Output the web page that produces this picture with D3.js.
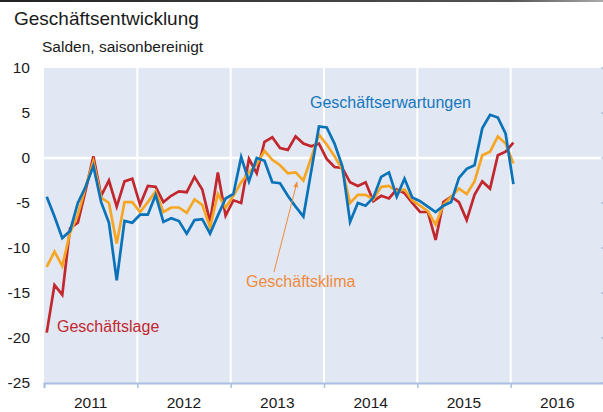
<!DOCTYPE html>
<html>
<head>
<meta charset="utf-8">
<script src="https://cdn.jsdelivr.net/npm/d3@7"></script>
<style>
body { margin: 0; background: #fff; }
svg { display: block; font-family: "Liberation Sans", Arial, sans-serif; }
</style>
</head>
<body>
<script>
// monthly values, jan 2011 .. jan 2016
let lage = [-19.4, -14.1, -15.2, -7.8, -7.2, -3.6, 0.2, -4.2, -2.5, -5.4, -2.6, -2.3,
            -5.2, -3.1, -3.2, -4.9, -4.2, -3.7, -3.8, -2.1, -3.5, -7.1, -1.6, -6.4,
            -4.7, -5.0, -0.1, -1.7, 1.8, 2.3, 1.1, 0.9, 2.4, 1.6, 1.3, 1.6,
            -0.1, -1.0, -1.1, -2.7, -3.1, -2.7, -4.8, -4.2, -4.5, -3.5, -3.9, -5.0,
            -6.0, -6.0, -9.1, -4.9, -4.3, -4.9, -6.9, -4.1, -2.6, -3.4, 0.3, 0.7,
            1.7]
let klima = [-12.1, -10.4, -12.0, -8.3, -6.3, -3.2, -0.4, -4.4, -5.0, -9.5, -4.9, -4.9,
             -6.0, -4.9, -3.7, -6.0, -5.5, -5.5, -6.1, -4.6, -5.2, -7.7, -4.0, -5.5,
             -4.2, -2.7, -1.6, -0.7, 0.8, -0.2, -0.8, -1.7, -1.6, -2.5, 0.0, 2.6,
             1.5, 0.2, -1.3, -5.0, -4.1, -4.1, -4.6, -3.2, -3.1, -3.7, -3.5, -4.7,
             -5.3, -5.9, -7.4, -5.2, -4.3, -3.4, -4.0, -2.6, 0.3, 0.7, 2.4, 1.6,
             -0.6]
let erwartungen = [-4.3, -6.5, -8.9, -8.1, -5.0, -3.2, -0.9, -4.9, -7.2, -13.6, -7.0, -7.2,
                   -6.3, -6.3, -4.1, -7.1, -6.7, -7.0, -8.4, -6.9, -6.8, -8.4, -6.4, -4.5,
                   -4.0, 0.1, -2.6, 0.0, -0.3, -2.7, -2.8, -4.2, -5.4, -6.5, -1.5, 3.5,
                   3.4, 1.6, -0.9, -7.1, -5.0, -5.3, -4.4, -2.1, -1.6, -4.3, -2.3, -4.4,
                   -4.8, -5.4, -6.0, -5.3, -4.9, -2.2, -1.2, -0.8, 3.3, 4.8, 4.5, 2.7,
                   -2.9]
let years = ["2011", "2012", "2013", "2014", "2015", "2016"]
let yticks = [10, 5, 0, -5, -10, -15, -20, -25]

let width = 603
let height = 412
let plotLeft = 44   //plot area starts here
let plotTop = 68
let plotBottom = 383

let red = "#c1272d"
let orange = "#f7a623"
let blue = "#0a72b8"

let xScale = d3.scaleLinear()
            .domain([0, 72]) //6 years in months
            .range([plotLeft, 604])
let yScale = d3.scaleLinear()
            .domain([-25, 10])
            .range([plotBottom, plotTop])

let canvas = d3.select("body")
    .append("svg")
    .attr("width", width)
    .attr("height", height)

// dark rule on top
let grad = canvas.append("defs").append("linearGradient").attr("id", "topline")
grad.append("stop").attr("offset", "0%").attr("stop-color", "#222")
grad.append("stop").attr("offset", "85%").attr("stop-color", "#555")
grad.append("stop").attr("offset", "100%").attr("stop-color", "#aaa")
canvas.append("rect")
    .attr("x", 0).attr("y", 0)
    .attr("width", width).attr("height", 2)
    .attr("fill", "url(#topline)")

canvas.append("text")
    .attr("x", 14)
    .attr("y", 25)
    .attr("font-size", 19)
    .attr("fill", "#1a1a1a")
    .text("Geschäftsentwicklung")
canvas.append("text")
    .attr("x", 42)
    .attr("y", 52)
    .attr("font-size", 15.5)
    .attr("fill", "#1a1a1a")
    .text("Salden, saisonbereinigt")

// panel background
canvas.append("rect")
    .attr("x", plotLeft)
    .attr("y", plotTop)
    .attr("width", width - plotLeft)
    .attr("height", plotBottom - plotTop)
    .attr("fill", "#e1e8f4")

// white year separators
canvas.selectAll("line.vgrid")
    .data(d3.range(1, 6))
    .enter()
    .append("line")
    .attr("class", "vgrid")
    .attr("x1", function(d){ return xScale(d*12) })
    .attr("x2", function(d){ return xScale(d*12) })
    .attr("y1", plotTop)
    .attr("y2", plotBottom)
    .attr("stroke", "#fff")
    .attr("stroke-width", 2)

// zero line
canvas.append("line")
    .attr("x1", plotLeft)
    .attr("x2", width)
    .attr("y1", yScale(0))
    .attr("y2", yScale(0))
    .attr("stroke", "#fff")
    .attr("stroke-width", 2.5)

// left axis labels only
let yaxis = canvas.append("g")
    .attr("transform", "translate(" + plotLeft + ",0)")
    .call(d3.axisLeft(yScale)
        .tickValues(yticks)
        .tickSize(0)
        .tickPadding(14)
        .tickFormat(function(d){ return String(d) }))
yaxis.select(".domain").remove()
yaxis.selectAll("text")
    .attr("font-size", 15.5)
    .attr("font-family", "Liberation Sans, Arial, sans-serif")
    .attr("fill", "#1a1a1a")

// small right ticks, cut by the edge
canvas.selectAll("line.rtick")
    .data(yticks)
    .enter()
    .append("line")
    .attr("class", "rtick")
    .attr("x1", width - 2)
    .attr("x2", width)
    .attr("y1", function(d){ return yScale(d) })
    .attr("y2", function(d){ return yScale(d) })
    .attr("stroke", "#9aa9c4")
    .attr("stroke-width", 1)

// bottom axis
let xaxis = canvas.append("g")
    .attr("transform", "translate(0," + plotBottom + ")")
    .call(d3.axisBottom(xScale)
        .tickValues(d3.range(0, 73, 12))
        .tickSize(5)
        .tickFormat(""))
xaxis.select(".domain").attr("stroke", "#aabde3").attr("stroke-width", 2)
xaxis.selectAll(".tick line").attr("stroke", "#aabde3").attr("stroke-width", 1.5)

canvas.selectAll("text.year")
    .data(years)
    .enter()
    .append("text")
    .attr("class", "year")
    .attr("x", function(d, i){ return xScale(i*12 + 6) })
    .attr("y", 408)
    .attr("text-anchor", "middle")
    .attr("font-size", 15.5)
    .attr("fill", "#1a1a1a")
    .text(function(d){ return d })

// series lines
let line = d3.line()
    .x(function(d, i){ return xScale(i + 0.35) })
    .y(function(d){ return yScale(d) })

let series = [
    {values: lage, color: red},
    {values: klima, color: orange},
    {values: erwartungen, color: blue}
]
canvas.selectAll("path.series")
    .data(series)
    .enter()
    .append("path")
    .attr("class", "series")
    .attr("d", function(d){ return line(d.values) })
    .attr("fill", "none")
    .attr("stroke", function(d){ return d.color })
    .attr("stroke-width", 2.7)
    .attr("stroke-linejoin", "miter")

// labels
canvas.append("text")
    .attr("x", 310).attr("y", 108)
    .attr("font-size", 16)
    .attr("fill", "#1577bd")
    .text("Geschäftserwartungen")
canvas.append("text")
    .attr("x", 246).attr("y", 287)
    .attr("font-size", 16)
    .attr("fill", "#f08b3a")
    .text("Geschäftsklima")
canvas.append("text")
    .attr("x", 57).attr("y", 332)
    .attr("font-size", 16)
    .attr("fill", "#c1272d")
    .text("Geschäftslage")

// arrow to orange line
canvas.select("defs").append("marker")
    .attr("id", "head")
    .attr("viewBox", "0 0 10 10")
    .attr("refX", 9).attr("refY", 5)
    .attr("markerWidth", 6).attr("markerHeight", 6)
    .attr("orient", "auto")
    .append("path")
    .attr("d", "M0,1 L10,5 L0,9 z")
    .attr("fill", "#f08b3a")
canvas.append("line")
    .attr("x1", 274).attr("y1", 272)
    .attr("x2", 297).attr("y2", 182)
    .attr("stroke", "#f08b3a")
    .attr("stroke-width", 1)
    .attr("marker-end", "url(#head)")
</script>
</body>
</html>
